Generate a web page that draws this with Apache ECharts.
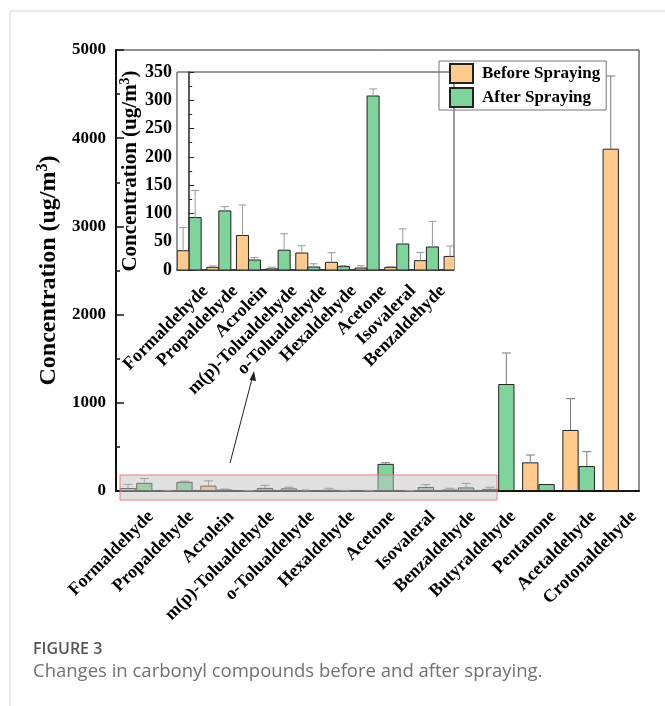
<!DOCTYPE html>
<html>
<head>
<meta charset="utf-8">
<script src="https://cdn.jsdelivr.net/npm/echarts@6/dist/echarts.min.js"></script>
<style>
  html, body { margin: 0; padding: 0; background: #fff; }
  #chart { width: 665px; height: 706px; }
</style>
</head>
<body>
<div id="chart"></div>
<script>
// Carbonyl compounds measured before and after spraying (ug/m3)
const categories = [
  'Formaldehyde', 'Propaldehyde', 'Acrolein', 'm(p)-Tolualdehyde', 'o-Tolualdehyde',
  'Hexaldehyde', 'Acetone', 'Isovaleral', 'Benzaldehyde', 'Butyraldehyde',
  'Pentanone', 'Acetaldehyde', 'Crotonaldehyde'
];
const beforeValues = [34, 4.7, 61, 2, 30, 13.6, 3.5, 4.7, 16.5, 24, 325, 692, 3881];
const beforeErrors = [41, 2.5, 54, 3, 13, 17, 4, 1.5, 14.5, 18.5, 83, 355, 824];
const afterValues  = [92.7, 104.5, 17.7, 35, 5.3, 6, 307.6, 46, 40.7, 1213, 79, 283, 3];
const afterErrors  = [48, 7.5, 4.5, 29, 5.7, 1.7, 12.4, 26.6, 45.3, 352, 0, 163, 0];

// Axis ticks
const mainAxis  = { min: 0, max: 5000, interval: 1000 };
const insetAxis = { min: 0, max: 350, interval: 50 };
// The zoomed panel shows the first ten compounds (the tenth is cut at the frame)
const insetCount = 10;
const insetLabelCount = 9;
const insetWindow = { min: -0.41, max: 8.93 };

const ORANGE = '#FFCB8C';
const GREEN = '#7ED49B';
const SERIF = '"Liberation Serif", "Times New Roman", serif';
const BAR_SHARE = 0.405;   // each bar's share of a category band

const barStyle = (color) => ({ color: color, borderColor: '#222', borderWidth: 1 });

// Upper error whisker drawn at the centre of its bar (side -1 = left bar, +1 = right bar)
function errorRenderer(side, color, capHalf) {
  return function (params, api) {
    const i = api.value(0);
    const top = api.value(1);
    const upper = api.value(2);
    if (upper <= top) return null;
    const band = api.size([1, 0])[0];
    const dx = side * band * BAR_SHARE / 2;
    const p0 = api.coord([i, top]);
    const p1 = api.coord([i, upper]);
    const x = p0[0] + dx;
    return {
      type: 'group',
      children: [
        { type: 'line', shape: { x1: x, y1: p0[1], x2: x, y2: p1[1] },
          style: { stroke: color, lineWidth: 1 } },
        { type: 'line', shape: { x1: x - capHalf, y1: p1[1], x2: x + capHalf, y2: p1[1] },
          style: { stroke: color, lineWidth: 1 } }
      ]
    };
  };
}

// Bars of the enlarged panel, clipped at its frame
function insetBarRenderer(side, color) {
  return function (params, api) {
    const i = api.value(0);
    const v = api.value(1);
    const band = api.size([1, 0])[0];
    const w = band * BAR_SHARE;
    const base = api.coord([i, 0]);
    const top = api.coord([i, v]);
    const x = side < 0 ? base[0] - w : base[0];
    return {
      type: 'rect',
      shape: { x: x, y: top[1], width: w, height: base[1] - top[1] },
      style: { fill: color, stroke: '#222', lineWidth: 1 }
    };
  };
}

const errData = (vals, errs, n) =>
  vals.slice(0, n).map((v, i) => [i, v, v + errs[i]]);
const insetBarData = (vals) =>
  vals.slice(0, insetCount).map((v, i) => [i, v]);

const chart = echarts.init(document.getElementById('chart'), null, { renderer: 'canvas' });

const option = {
  animation: false,
  backgroundColor: '#fff',
  textStyle: { fontFamily: SERIF },
  grid: [
    { left: 116, top: 50, right: 26, bottom: 215, show: true,
      borderColor: '#222', borderWidth: 1, backgroundColor: 'transparent', containLabel: false },
    { left: 177, top: 72, width: 277, height: 198, show: true,
      borderColor: '#333', borderWidth: 1, backgroundColor: 'transparent', containLabel: false }
  ],
  legend: {
    data: ['Before Spraying', 'After Spraying'],
    orient: 'vertical',
    left: 439, top: 61,
    padding: [2, 6, 2, 10],
    itemWidth: 23, itemHeight: 19, itemGap: 3,
    borderColor: '#777', borderWidth: 1,
    icon: 'rect',
    textStyle: { fontFamily: SERIF, fontWeight: 'bold', fontSize: 17, color: '#000', padding: [0, 0, 0, 4] }
  },
  xAxis: [
    {
      type: 'category', gridIndex: 0, data: categories,
      axisLine: { lineStyle: { color: '#111', width: 2 } },
      axisTick: { show: false },
      axisLabel: { interval: 0, rotate: 45, margin: 8, color: '#000',
        verticalAlign: 'top', align: 'right', padding: [12, 0, 0, 0],
        fontFamily: SERIF, fontWeight: 'bold', fontSize: 18 },
      splitLine: { show: false }
    },
    {
      type: 'value', gridIndex: 1, min: insetWindow.min, max: insetWindow.max,
      axisLine: { lineStyle: { color: '#222', width: 1.5 } },
      axisTick: { show: false },
      axisLabel: {
        customValues: categories.slice(0, insetLabelCount).map((c, i) => i),
        formatter: (v) => categories[Math.round(v)],
        rotate: 45, margin: 2, color: '#000',
        verticalAlign: 'top', align: 'right', padding: [14, 0, 0, 0],
        fontFamily: SERIF, fontWeight: 'bold', fontSize: 18
      },
      splitLine: { show: false }
    }
  ],
  yAxis: [
    {
      type: 'value', gridIndex: 0, min: mainAxis.min, max: mainAxis.max, interval: mainAxis.interval,
      axisLine: { show: true, lineStyle: { color: '#111', width: 2 } },
      axisTick: { show: true, inside: true, length: 8, lineStyle: { color: '#111', width: 1.5 } },
      minorTick: { show: true, splitNumber: 2, length: 4, lineStyle: { color: '#111', width: 1.5 } },
      axisLabel: { margin: 10, color: '#000', formatter: (v) => String(v),
        fontFamily: SERIF, fontWeight: 'bold', fontSize: 17 },
      splitLine: { show: false },
      name: '{a|Concentration (ug/m}{s|3}{a|)}',
      nameLocation: 'middle', nameRotate: 90, nameGap: 37,
      nameTextStyle: {
        rich: {
          a: { fontFamily: SERIF, fontWeight: 'bold', fontSize: 24, color: '#000', lineHeight: 28 },
          s: { fontFamily: SERIF, fontWeight: 'bold', fontSize: 16, color: '#000', lineHeight: 28, verticalAlign: 'top' }
        }
      }
    },
    {
      type: 'value', gridIndex: 1, min: insetAxis.min, max: insetAxis.max, interval: insetAxis.interval,
      axisLine: { show: true, lineStyle: { color: '#222', width: 1.5 } },
      axisTick: { show: true, inside: true, length: 5, lineStyle: { color: '#222' } },
      minorTick: { show: true, splitNumber: 2, length: 3, lineStyle: { color: '#222' } },
      axisLabel: { margin: 5, color: '#000', formatter: (v) => String(v),
        fontFamily: SERIF, fontWeight: 'bold', fontSize: 18 },
      splitLine: { show: false },
      name: '{a|Concentration (ug/m}{s|3}{a|)}',
      nameLocation: 'middle', nameRotate: 90, nameGap: 33,
      nameTextStyle: {
        rich: {
          a: { fontFamily: SERIF, fontWeight: 'bold', fontSize: 21, color: '#000', lineHeight: 24 },
          s: { fontFamily: SERIF, fontWeight: 'bold', fontSize: 14, color: '#000', lineHeight: 24, verticalAlign: 'top' }
        }
      }
    }
  ],
  series: [
    { name: 'Before Spraying', type: 'bar', xAxisIndex: 0, yAxisIndex: 0,
      data: beforeValues, barWidth: (BAR_SHARE * 100) + '%', barGap: '0%', itemStyle: barStyle(ORANGE), z: 2 },
    { name: 'After Spraying', type: 'bar', xAxisIndex: 0, yAxisIndex: 0,
      data: afterValues, barWidth: (BAR_SHARE * 100) + '%', barGap: '0%', itemStyle: barStyle(GREEN), z: 2 },
    { type: 'custom', xAxisIndex: 0, yAxisIndex: 0, z: 3,
      data: errData(beforeValues, beforeErrors, categories.length),
      renderItem: errorRenderer(-1, '#777', 4.5) },
    { type: 'custom', xAxisIndex: 0, yAxisIndex: 0, z: 3,
      data: errData(afterValues, afterErrors, categories.length),
      renderItem: errorRenderer(1, '#777', 4.5) },

    { type: 'custom', xAxisIndex: 1, yAxisIndex: 1, clip: true, z: 2,
      data: insetBarData(beforeValues), renderItem: insetBarRenderer(-1, ORANGE) },
    { type: 'custom', xAxisIndex: 1, yAxisIndex: 1, clip: true, z: 2,
      data: insetBarData(afterValues), renderItem: insetBarRenderer(1, GREEN) },
    { type: 'custom', xAxisIndex: 1, yAxisIndex: 1, clip: true, z: 3,
      data: errData(beforeValues, beforeErrors, insetCount),
      renderItem: errorRenderer(-1, '#999', 4) },
    { type: 'custom', xAxisIndex: 1, yAxisIndex: 1, clip: true, z: 3,
      data: errData(afterValues, afterErrors, insetCount),
      renderItem: errorRenderer(1, '#999', 4) }
  ],
  graphic: [
    // page frame
    { type: 'line', z: 1, shape: { x1: 10, y1: 11, x2: 665, y2: 11 }, style: { stroke: '#d4d4d4', lineWidth: 1 } },
    { type: 'line', z: 1, shape: { x1: 10, y1: 11, x2: 10, y2: 706 }, style: { stroke: '#d4d4d4', lineWidth: 1 } },
    // highlighted region enlarged in the panel
    { type: 'rect', z: 100, shape: { x: 120, y: 475, width: 377, height: 25 },
      style: { fill: 'rgba(196,196,196,0.5)', stroke: '#F07C7C', lineWidth: 1 } },
    // pointer to the enlarged panel
    { type: 'line', z: 100, shape: { x1: 230, y1: 463, x2: 253, y2: 375 }, style: { stroke: '#222', lineWidth: 1 } },
    { type: 'polygon', z: 100, shape: { points: [[254, 371], [249.5, 380], [256, 381]] }, style: { fill: '#222' } },
    // caption
    { type: 'text', left: 33, top: 641,
      style: { text: 'FIGURE 3', font: '600 16px "Open Sans", sans-serif', fill: '#555' } },
    { type: 'text', left: 33, top: 662,
      style: { text: 'Changes in carbonyl compounds before and after spraying.', font: '18.5px "Open Sans", sans-serif', fill: '#707070' } }
  ]
};

chart.setOption(option);
</script>
</body>
</html>
